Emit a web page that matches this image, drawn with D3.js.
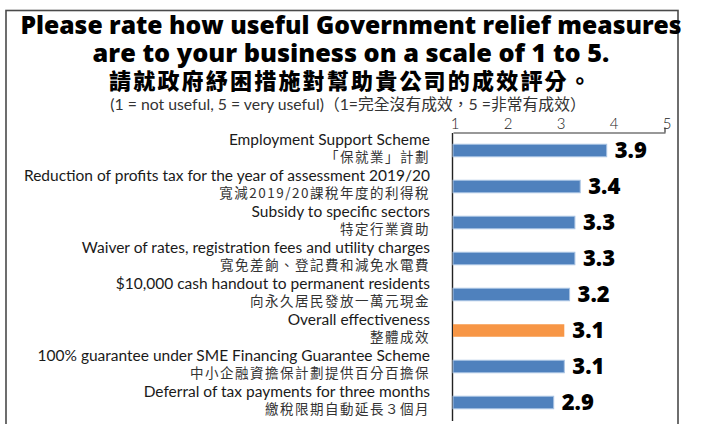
<!DOCTYPE html>
<html>
<head>
<meta charset="utf-8">
<script src="https://cdn.jsdelivr.net/npm/d3@7"></script>
<style>
  html, body { margin: 0; padding: 0; background: #fff; }
  svg { display: block; }
  .en { font-family: Lato, "Noto Sans", sans-serif; }
  .heavy { font-family: "Open Sans", Lato, sans-serif; font-weight: 800; }
  .cjk { font-family: "Noto Sans CJK TC", "Noto Sans CJK SC", sans-serif; }
</style>
</head>
<body>
<svg id="chart" width="702" height="424"></svg>
<script>
// Survey measures, English and Chinese names, top to bottom
const measuresEn = [
  "Employment Support Scheme",
  "Reduction of profits tax for the year of assessment 2019/20",
  "Subsidy to specific sectors",
  "Waiver of rates, registration fees and utility charges",
  "$10,000 cash handout to permanent residents",
  "Overall effectiveness",
  "100% guarantee under SME Financing Guarantee Scheme",
  "Deferral of tax payments for three months"
];
const measuresZh = [
  "「保就業」計劃",
  "寬減2019/20課稅年度的利得稅",
  "特定行業資助",
  "寬免差餉、登記費和減免水電費",
  "向永久居民發放一萬元現金",
  "整體成效",
  "中小企融資擔保計劃提供百分百擔保",
  "繳稅限期自動延長３個月"
];
// Average usefulness score (1-5)
const scores = [3.9, 3.4, 3.3, 3.3, 3.2, 3.1, 3.1, 2.9];
// Which bar is the overall summary
const highlight = [false, false, false, false, false, true, false, false];
// Rating scale ticks
const scaleTicks = [1, 2, 3, 4, 5];

const titleLines = [
  "Please rate how useful Government relief measures",
  "are to your business on a scale of 1 to 5."
];
const titleZh = "請就政府紓困措施對幫助貴公司的成效評分。";
const subtitle = "(1 = not useful, 5 = very useful)（1=完全沒有成效，5 =非常有成效）";

const svg = d3.select("#chart");

// Outer frame
svg.append("rect")
  .attr("x", 6).attr("y", 10.5)
  .attr("width", 672).attr("height", 430)
  .attr("fill", "none")
  .attr("stroke", "#4a4a4a")
  .attr("stroke-width", 1.6);

// Titles
const cx = 351;
svg.append("text").attr("class", "heavy")
  .attr("x", cx).attr("y", 33.5)
  .attr("text-anchor", "middle")
  .attr("font-size", 24.7)
  .attr("fill", "#000")
  .text(titleLines[0]);
svg.append("text").attr("class", "heavy")
  .attr("x", cx).attr("y", 61.5)
  .attr("text-anchor", "middle")
  .attr("font-size", 25.3)
  .attr("fill", "#000")
  .text(titleLines[1]);
svg.append("text").attr("class", "cjk")
  .attr("x", cx).attr("y", 88.5)
  .attr("text-anchor", "middle")
  .attr("font-size", 22).attr("font-weight", 900)
  .attr("letter-spacing", 2.2)
  .attr("fill", "#000")
  .text(titleZh);
svg.append("text")
  .attr("x", 348).attr("y", 110)
  .attr("text-anchor", "middle")
  .attr("font-size", 15.8)
  .attr("fill", "#333")
  .style("font-family", "Lato, 'Noto Sans CJK TC', sans-serif")
  .text(subtitle);

// Scales
const x = d3.scaleLinear().domain([1, 5]).range([453, 665]);
const y = d3.scaleBand()
  .domain(measuresEn)
  .range([132.5, 420.5])
  .paddingInner(0.65)
  .paddingOuter(0.325);

// Top rating axis
const xAxis = svg.append("g")
  .attr("transform", `translate(0,${y.range()[0]})`)
  .call(d3.axisTop(x)
    .tickValues(scaleTicks)
    .tickFormat(d3.format("d"))
    .tickSizeInner(0).tickSizeOuter(0).tickPadding(4));
xAxis.select(".domain").attr("stroke", "#333").attr("stroke-width", 1.2);
xAxis.selectAll(".tick text")
  .attr("font-size", 15)
  .attr("dx", 1.5)
  .attr("fill", "#222")
  .style("font-family", "Lato, sans-serif")
  .style("font-weight", 300);
// small closing tick at the scale maximum
xAxis.append("line")
  .attr("x1", x(5)).attr("x2", x(5))
  .attr("y1", 0).attr("y2", -5)
  .attr("stroke", "#333").attr("stroke-width", 1.2);

// Left category axis (line only; labels drawn as two lines below)
const yAxis = svg.append("g")
  .attr("transform", `translate(${x(1) - 1},0)`)
  .call(d3.axisLeft(y).tickSize(0).tickFormat(""));
yAxis.select(".domain").attr("stroke", "#222").attr("stroke-width", 1.4);

// Category labels
const labels = svg.append("g");
measuresEn.forEach((name, i) => {
  const yc = y(name) + y.bandwidth() / 2;
  labels.append("text").attr("class", "en")
    .attr("x", 430).attr("y", yc - 5.5)
    .attr("text-anchor", "end")
    .attr("font-size", 15.5)
    .attr("fill", "#1a1a1a")
    .text(name);
  labels.append("text").attr("class", "cjk")
    .attr("x", 430).attr("y", yc + 11)
    .attr("text-anchor", "end")
    .attr("font-size", 13.5)
    .attr("letter-spacing", 1.5)
    .attr("fill", "#333")
    .text(measuresZh[i]);
});

// Bars
const barH = 12.5;
svg.append("g").selectAll("rect")
  .data(scores)
  .join("rect")
  .attr("x", x(1))
  .attr("y", (d, i) => y(measuresEn[i]) + y.bandwidth() / 2 - barH / 2)
  .attr("width", d => x(d) - x(1))
  .attr("height", barH)
  .attr("fill", (d, i) => highlight[i] ? "#f79646" : "#4f81bd")
  .attr("stroke", (d, i) => highlight[i] ? "none" : "#a9c3e3")
  .attr("stroke-width", 1);

// Value labels
svg.append("g").selectAll("text")
  .data(scores)
  .join("text")
  .attr("class", "heavy")
  .attr("x", d => x(d) + 8)
  .attr("y", (d, i) => y(measuresEn[i]) + y.bandwidth() / 2 + 7)
  .attr("font-size", 22)
  .attr("fill", "#000")
  .text(d => d.toFixed(1));
</script>
</body>
</html>
